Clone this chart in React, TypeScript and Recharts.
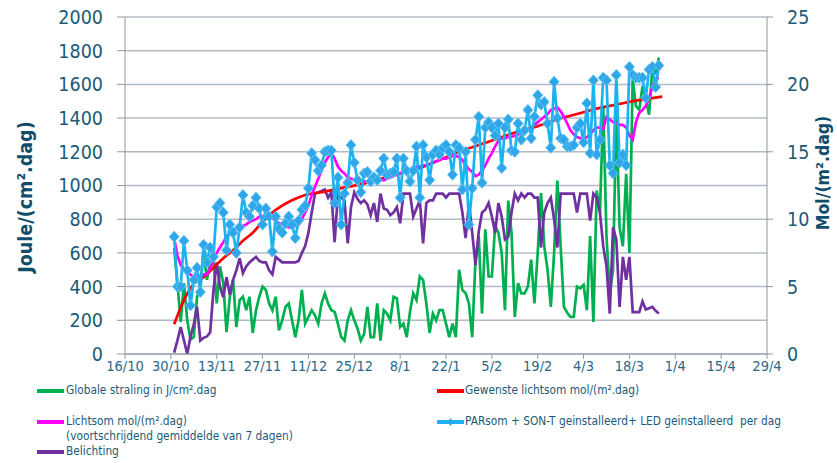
import { LineChart, Line, XAxis, YAxis, CartesianGrid } from 'recharts';

// x axis = days since 16/10
const tickLabels = ['16/10', '30/10', '13/11', '27/11', '11/12', '25/12', '8/1', '22/1', '5/2', '19/2', '4/3', '18/3', '1/4', '15/4', '29/4'];
const firstDay = 15;

// Globale straling in J/cm².dag (left axis)
const globaleStraling = [
  630, 420, 190, 420, 200, 85, 100, 340, 400, 615,
  440, 540, 560, 300, 520, 420, 130, 340, 440, 160,
  320, 340, 260, 340, 125, 260, 340, 400, 380, 300,
  260, 340, 140, 200, 280, 300, 200, 100, 200, 380,
  180, 220, 260, 230, 180, 300, 360, 300, 260, 250,
  180, 100, 80, 200, 260, 200, 150, 80, 120, 280,
  100, 100, 300, 80, 260, 240, 200, 340, 330, 160,
  180, 100, 250, 360, 320, 460, 440, 300, 125, 240,
  200, 260, 260, 180, 100, 180, 100, 500, 380, 360,
  300, 100, 560, 700, 240, 740, 460, 460, 760, 720,
  600, 260, 910, 720, 220, 420, 360, 360, 400, 560,
  300, 600, 955, 640, 500, 280, 600, 1030, 640, 280,
  245, 220, 220, 400, 390, 410, 260, 700, 190, 970,
  840, 1470, 700, 360, 500, 1430, 750, 640, 1070, 600,
  1630, 1470, 1450, 1590, 1510, 1420, 1700, 1670, 1760,
];

// PARsom + SON-T + LED per dag (mol)
const parsom = [
  8.7, 5.0, 5.0, 8.4, 6.2, 3.6, 5.5, 6.4, 4.6, 8.1,
  6.8, 7.9, 7.2, 10.9, 11.2, 10.5, 7.7, 9.6, 9.0, 7.5,
  9.4, 11.8, 10.5, 10.2, 11.0, 11.6, 10.8, 9.6, 10.8, 10.2,
  7.6, 10.2, 9.3, 9.0, 9.7, 10.2, 9.6, 8.6, 9.9, 10.7,
  11.0, 12.3, 14.9, 14.4, 13.6, 14.0, 15.0, 15.1, 15.1, 11.2,
  13.1, 9.6, 11.9, 12.7, 15.5, 14.2, 12.9, 12.0, 13.4, 13.5,
  12.8, 13.1, 12.9, 13.6, 14.5, 13.3, 13.4, 13.5, 14.5, 11.6,
  14.5, 13.6, 12.8, 13.6, 15.4, 11.6, 15.5, 14.6, 12.9, 14.8,
  15.1, 14.8, 15.3, 15.5, 15.0, 13.3, 15.5, 15.3, 12.2, 15.0,
  9.6, 12.3, 15.9, 17.6, 12.7, 16.8, 17.2, 16.8, 16.2, 17.1,
  13.8, 16.8, 17.4, 15.1, 15.0, 17.1, 15.9, 16.6, 18.1, 16.0,
  17.6, 19.2, 18.5, 18.7, 17.1, 15.3, 20.2, 17.5, 16.0, 15.9,
  15.4, 15.4, 15.5, 16.8, 17.1, 15.7, 18.6, 14.9, 20.3, 14.8,
  15.9, 20.5, 20.3, 14.0, 13.4, 20.7, 14.2, 14.8, 14.0, 21.3,
  20.7, 20.5, 20.5, 20.5, 19.0, 21.1, 21.3, 19.8, 21.4,
];

// Belichting (mol)
const belichting = [
  0.1, 1.0, 2.0, 1.0, 0.0, 1.3, 2.2, 3.5, 1.0, 1.2,
  1.3, 1.6, 4.7, 6.8, 5.0, 4.2, 5.7, 4.4, 5.5, 6.2,
  7.1, 6.0, 6.5, 6.8, 7.0, 7.2, 6.9, 6.8, 6.8, 6.2,
  5.9, 7.2, 7.0, 6.8, 6.8, 6.8, 6.8, 6.8, 6.9, 7.5,
  8.0, 9.0, 10.5, 11.9, 12.0, 12.1, 12.2, 11.6, 12.0, 8.3,
  11.9, 11.6, 11.4, 8.2, 10.9, 12.0, 11.5, 11.2, 11.4, 11.1,
  10.3, 11.2, 9.8, 11.9, 10.8, 10.7, 10.3, 10.5, 10.9, 9.7,
  11.9, 11.9, 11.9, 10.2, 10.8, 11.4, 8.2, 11.2, 11.4, 11.4,
  11.9, 11.9, 11.9, 11.6, 11.9, 11.9, 11.9, 11.9, 10.5, 8.6,
  11.2, 9.0, 6.6, 9.1, 10.5, 10.7, 11.2, 10.2, 9.0, 11.2,
  10.2, 8.5, 8.7, 10.5, 11.9, 11.4, 11.9, 11.6, 11.9, 11.9,
  11.6, 11.6, 7.9, 10.5, 11.2, 11.6, 10.0, 7.9, 11.9, 11.9,
  11.9, 11.9, 11.9, 10.5, 11.9, 11.9, 11.9, 9.9, 11.9, 11.6,
  10.5, 8.0, 6.5, 3.0, 9.4, 8.5, 3.5, 7.2, 5.5, 7.2,
  3.1, 3.1, 3.1, 3.9, 3.3, 3.4, 3.5, 3.2, 3.0,
];

// Lichtsom mol/(m².dag), 7-daags gemiddelde
const lichtsom = [
  8.6, 7.3, 6.6, 6.3, 6.1, 5.9, 5.7, 5.7, 5.8, 5.9,
  5.9, 6.4, 6.9, 7.5, 7.9, 8.3, 8.7, 9.0, 9.2, 9.3,
  9.4, 9.5, 9.6, 9.8, 9.9, 10.0, 10.2, 10.2, 10.2, 10.2,
  10.1, 9.9, 9.7, 9.6, 9.5, 9.4, 9.4, 9.5, 9.6, 10.0,
  10.5, 11.0, 11.8, 12.4, 13.0, 13.6, 14.2, 14.6, 14.9, 14.5,
  13.9, 13.6, 13.4, 13.1, 13.0, 12.9, 12.9, 12.8, 12.8, 12.8,
  12.8, 12.8, 12.8, 12.9, 12.9, 13.0, 13.1, 13.2, 13.3, 13.4,
  13.5, 13.6, 13.7, 13.8, 13.9, 13.9, 14.0, 14.0, 14.1, 14.2,
  14.3, 14.4, 14.5, 14.5, 14.6, 14.7, 14.7, 14.6, 14.4, 14.0,
  13.7, 13.5, 13.2, 13.3, 13.6, 14.0, 14.5, 14.9, 15.4, 15.8,
  16.0, 16.0, 16.1, 16.1, 16.2, 16.3, 16.4, 16.5, 16.6, 16.8,
  17.0, 17.2, 17.4, 17.6, 17.8, 18.1, 18.2, 18.3, 18.0, 17.6,
  17.1, 16.6, 16.3, 16.1, 16.0, 15.9, 16.1, 16.3, 16.6, 16.8,
  16.8, 16.7, 17.6, 17.4, 17.2, 17.1, 17.0, 17.0, 16.8, 16.2,
  15.9, 17.2, 17.9, 18.1, 18.4, 19.0, 19.8, 20.4, 20.5,
];

// Gewenste lichtsom (smooth target curve)
const gewensteDays = [15, 18, 21, 24, 27, 30, 33, 36, 39, 42, 45, 48, 51, 55, 60, 66, 72, 78, 84, 90, 96, 102, 108, 114, 120, 126, 132, 138, 144, 150, 156, 164];
const gewenste = [2.2, 4.0, 5.2, 5.7, 6.4, 7.1, 7.7, 8.4, 9.0, 9.8, 10.5, 11.0, 11.4, 11.8, 12.0, 12.3, 12.6, 13.0, 13.4, 13.8, 14.4, 15.0, 15.5, 16.0, 16.5, 16.9, 17.4, 17.8, 18.2, 18.5, 18.8, 19.1];

const leftTicks = [0, 200, 400, 600, 800, 1000, 1200, 1400, 1600, 1800, 2000];
const rightTicks = [0, 5, 10, 15, 20, 25];
const xTicks = tickLabels.map((_, i) => i * 14);

const data: Record<string, number | undefined>[] = [];
for (let d = firstDay; d <= 164; d++) {
  const i = d - firstDay;
  data.push({
    day: d,
    globale: globaleStraling[i],
    par: parsom[i],
    belichting: belichting[i],
    lichtsom: lichtsom[i],
  });
}
gewensteDays.forEach((d, i) => {
  data[d - firstDay].gewenste = gewenste[i];
});

const FONT = '"DejaVu Sans Condensed", "DejaVu Sans", sans-serif';
const TEXT = '#1b5a78';
const AXIS = '#8c98a4';

const Diamond = (props: any) => {
  const { cx, cy } = props;
  if (cx == null || cy == null) return null;
  return (
    <path
      d={`M${cx},${cy - 5.5}L${cx + 5},${cy}L${cx},${cy + 5.5}L${cx - 5},${cy}Z`}
      fill="#2ea6e8"
      stroke="#5ec2f5"
      strokeWidth={1}
    />
  );
};

const legendText = { position: 'absolute' as const, fontFamily: FONT, fontSize: 11.8, color: TEXT, whiteSpace: 'nowrap' as const, lineHeight: '15px' };

function Swatch({ x, y, color, diamond }: { x: number; y: number; color: string; diamond?: boolean }) {
  return (
    <svg style={{ position: 'absolute', left: x, top: y - 6 }} width={27} height={12}>
      <line x1={0} y1={6} x2={27} y2={6} stroke={color} strokeWidth={4} />
      {diamond && <path d="M13.5,2L16.5,6L13.5,10L10.5,6Z" fill="#2ea6e8" />}
    </svg>
  );
}

export default function App() {
  return (
    <div style={{ position: 'absolute', left: 0, top: 0, width: 837, height: 463, background: '#fff', overflow: 'hidden' }}>
      <LineChart width={837} height={380} data={data} margin={{ top: 17, right: 0, bottom: 0, left: 0 }}>
        <CartesianGrid yAxisId="left" vertical={false} stroke="#b3bcc6" strokeWidth={1.5} />
        <XAxis
          dataKey="day"
          type="number"
          domain={[0, 196]}
          ticks={xTicks}
          tickFormatter={(v: number) => tickLabels[v / 14]}
          tick={{ fill: '#2a6888', fontSize: 14.5, fontFamily: FONT }}
          tickSize={5}
          stroke={AXIS}
          height={26}
          interval={0}
        />
        <YAxis
          yAxisId="left"
          orientation="left"
          domain={[0, 2000]}
          ticks={leftTicks}
          width={125}
          tick={{ fill: TEXT, fontSize: 19.5, fontFamily: FONT }}
          tickSize={8}
          tickMargin={14}
          stroke={AXIS}
          interval={0}
        />
        <YAxis
          yAxisId="right"
          orientation="right"
          domain={[0, 25]}
          ticks={rightTicks}
          width={70}
          tick={{ fill: TEXT, fontSize: 19.5, fontFamily: FONT }}
          tickSize={6}
          tickMargin={14}
          stroke={AXIS}
          interval={0}
        />
        <Line yAxisId="left" dataKey="globale" stroke="#00b050" strokeWidth={2.7} dot={false} isAnimationActive={false} />
        <Line yAxisId="right" dataKey="belichting" stroke="#7030a0" strokeWidth={2.7} dot={false} isAnimationActive={false} />
        <Line yAxisId="right" dataKey="gewenste" type="monotone" connectNulls stroke="#ff0000" strokeWidth={2.7} dot={false} isAnimationActive={false} />
        <Line yAxisId="right" dataKey="lichtsom" stroke="#ff00ff" strokeWidth={2.7} dot={false} isAnimationActive={false} />
        <Line
          yAxisId="right"
          dataKey="par"
          stroke="#1ab2f0"
          strokeWidth={2.7}
          dot={(p: any) => <Diamond key={`d${p.index}`} {...p} />}
          isAnimationActive={false}
        />
      </LineChart>

      <div style={{ position: 'absolute', left: 25, top: 197, transform: 'translate(-50%, -50%) rotate(-90deg)', fontFamily: FONT, fontWeight: 'bold', fontSize: 19.5, color: '#0f4d6b', whiteSpace: 'nowrap' }}>
        Joule/(cm².dag)
      </div>
      <div style={{ position: 'absolute', left: 823, top: 173, transform: 'translate(-50%, -50%) rotate(-90deg)', fontFamily: FONT, fontWeight: 'bold', fontSize: 17.5, color: '#0f4d6b', whiteSpace: 'nowrap' }}>
        Mol/(m².dag)
      </div>

      <Swatch x={37} y={391} color="#00b050" />
      <div style={{ ...legendText, left: 66, top: 383 }}>Globale straling in J/cm².dag</div>
      <Swatch x={437} y={391} color="#ff0000" />
      <div style={{ ...legendText, left: 465, top: 383 }}>Gewenste lichtsom mol/(m².dag)</div>
      <Swatch x={37} y={422} color="#ff00ff" />
      <div style={{ ...legendText, left: 66, top: 414 }}>
        Lichtsom mol/(m².dag)
        <br />
        (voortschrijdend gemiddelde van 7 dagen)
      </div>
      <Swatch x={437} y={422} color="#1ab2f0" diamond />
      <div style={{ ...legendText, left: 465, top: 414 }}>PARsom + SON-T geinstalleerd+ LED geinstalleerd&nbsp; per dag</div>
      <Swatch x={37} y={452} color="#7030a0" />
      <div style={{ ...legendText, left: 66, top: 444 }}>Belichting</div>
    </div>
  );
}
